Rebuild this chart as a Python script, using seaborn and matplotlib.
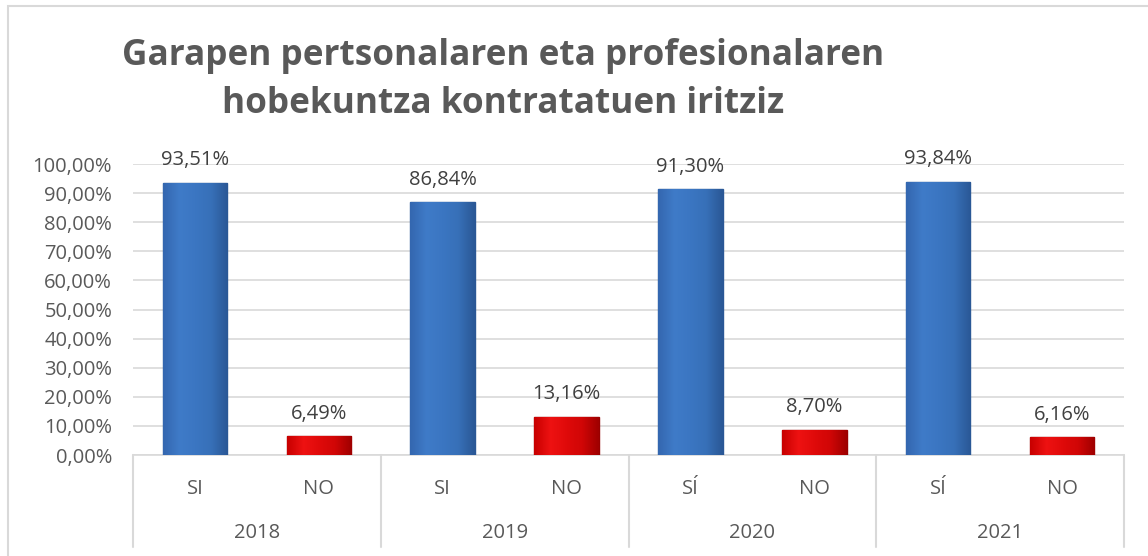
import numpy as np
import pandas as pd
import matplotlib.pyplot as plt
from matplotlib.patches import Rectangle
from matplotlib.colors import LinearSegmentedColormap
import seaborn as sns

years = ['2018', '2019', '2020', '2021']
answers = ['SI', 'NO', 'SI', 'NO', 'SÍ', 'NO', 'SÍ', 'NO']
si_values = [93.51, 86.84, 91.30, 93.84]
no_values = [6.49, 13.16, 8.70, 6.16]
si_labels = ['93,51%', '86,84%', '91,30%', '93,84%']
no_labels = ['6,49%', '13,16%', '8,70%', '6,16%']
y_ticks = [0, 10, 20, 30, 40, 50, 60, 70, 80, 90, 100]

rows = []
for i, yr in enumerate(years):
    rows.append({'key': yr + ' si', 'answer': 'SI', 'value': si_values[i] / 100})
    rows.append({'key': yr + ' no', 'answer': 'NO', 'value': no_values[i] / 100})
df = pd.DataFrame(rows)

sns.set_style('white')
plt.rcParams['font.family'] = ['Open Sans', 'DejaVu Sans']
text_grey = '#595959'
line_grey = '#D9D9D9'

fig = plt.figure(figsize=(11.48, 5.56), dpi=100)
ax = fig.add_axes([133 / 1148, 1 - 455 / 556, (1124 - 133) / 1148, (455 - 164) / 556])

sns.barplot(data=df, x='key', y='value', hue='answer', hue_order=['SI', 'NO'],
            palette={'SI': '#3B76C2', 'NO': '#E00A0A'}, saturation=1,
            dodge=False, width=0.52, legend=False, ax=ax, zorder=3)

# bevel-like shading, mostly flat with darker right edge
cmaps = {
    'SI': LinearSegmentedColormap.from_list('si', ['#3467B0', '#3F7BC8', '#3B76C2', '#3770B8', '#2A5896']),
    'NO': LinearSegmentedColormap.from_list('no', ['#C80000', '#EE1212', '#E00A0A', '#D00606', '#A00000']),
}
edge_cols = {'SI': '#2A5796', 'NO': '#980000'}
grad = np.linspace(0, 1, 64).reshape(1, -1)
for cont, ans, labels in zip(ax.containers, ['SI', 'NO'], [si_labels, no_labels]):
    for bar, lab in zip(cont, labels):
        x0, w, h = bar.get_x(), bar.get_width(), bar.get_height()
        bar.set_edgecolor(edge_cols[ans])
        bar.set_linewidth(1.0)
        im = ax.imshow(grad, cmap=cmaps[ans], extent=(x0, x0 + w, 0, h),
                       aspect='auto', zorder=3.5, interpolation='bicubic')
        im.set_clip_path(bar)
        ax.annotate(lab, (x0 + w / 2, h), xytext=(0, 9), textcoords='offset points',
                    ha='center', va='bottom', fontsize=14.5, color='#404040')

ax.set_ylim(0, 1)
ax.set_xlim(-0.5, len(df) - 0.5)
ax.set_yticks([t / 100 for t in y_ticks])
ax.set_yticklabels([f'{t},00%' for t in y_ticks], fontsize=14.5, color=text_grey)
ax.yaxis.grid(True, color=line_grey, linewidth=1.2, zorder=0)
ax.tick_params(axis='y', length=0, pad=15)
for s in ['left', 'right', 'top']:
    ax.spines[s].set_visible(False)
ax.spines['bottom'].set_color(line_grey)
ax.spines['bottom'].set_linewidth(1.2)

ax.set_xticks(range(len(df)))
ax.set_xticklabels(answers, fontsize=14.5, color=text_grey)
ax.tick_params(axis='x', length=0, pad=17)
ax.set_xlabel('')
ax.set_ylabel('')

# year labels and separators below the axis
trans = ax.get_xaxis_transform()
for k, yr in enumerate(years):
    ax.text(2 * k + 0.5, -0.269, yr, transform=trans, ha='center', va='center',
            fontsize=14.5, color=text_grey)
for k in range(len(years) + 1):
    ax.plot([2 * k - 0.5, 2 * k - 0.5], [0, -0.316], transform=trans,
            color=line_grey, linewidth=1.5, clip_on=False)

fig.text(503 / 1148, 1 - 56 / 556, 'Garapen pertsonalaren eta profesionalaren',
         ha='center', va='center', fontsize=25.3, fontweight='bold', color=text_grey)
fig.text(503 / 1148, 1 - 104 / 556, 'hobekuntza kontratatuen iritziz',
         ha='center', va='center', fontsize=25.3, fontweight='bold', color=text_grey)

fig.patches.append(Rectangle((8 / 1148, -0.1), 1.2, 1 - 6 / 556 + 0.1,
                             transform=fig.transFigure, fill=False,
                             edgecolor=line_grey, linewidth=1.5))

fig.savefig('out.png', dpi=100)
